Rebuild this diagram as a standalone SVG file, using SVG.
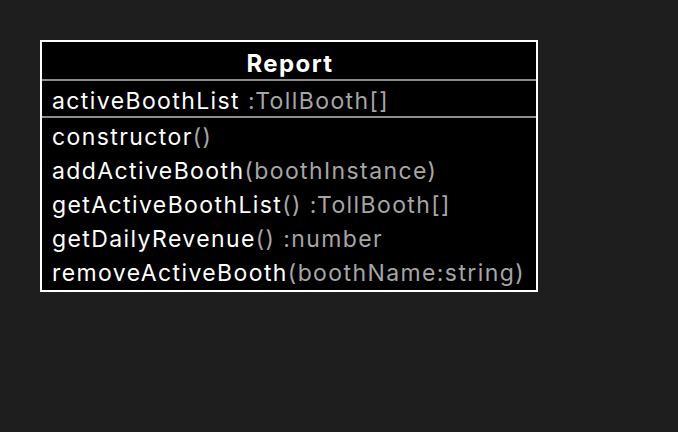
<svg xmlns="http://www.w3.org/2000/svg" width="678" height="432" viewBox="0 0 678 432">
<style>
.t{font-family:Inter,"Noto Sans",sans-serif;font-size:23px;fill:#ffffff;letter-spacing:1.4px}
.g{fill:#a6a6a6}
.h{font-weight:bold;font-size:24px;letter-spacing:1.4px}
.sep{stroke:#8c8c8c;stroke-width:2}
</style>
<rect width="678" height="432" fill="#1e1e1e"/>
<g id="Report">
<rect x="41" y="41" width="496" height="250" fill="#000000" stroke="#ffffff" stroke-width="2"/>
<line class="sep" x1="42" y1="80" x2="536" y2="80"/>
<line class="sep" x1="42" y1="117" x2="536" y2="117"/>
<text class="t h" x="290" y="72" text-anchor="middle">Report</text>
<text class="t" x="52" y="109">activeBoothList <tspan class="g">:TollBooth[]</tspan></text>
<text class="t" x="52" y="145">constructor<tspan class="g">()</tspan></text>
<text class="t" x="52" y="179">addActiveBooth<tspan class="g">(boothInstance)</tspan></text>
<text class="t" x="52" y="213">getActiveBoothList<tspan class="g">() :TollBooth[]</tspan></text>
<text class="t" x="52" y="247">getDailyRevenue<tspan class="g">() :number</tspan></text>
<text class="t" x="52" y="281">removeActiveBooth<tspan class="g">(boothName:string)</tspan></text>
</g>
<g id="connectors"/>
</svg>
